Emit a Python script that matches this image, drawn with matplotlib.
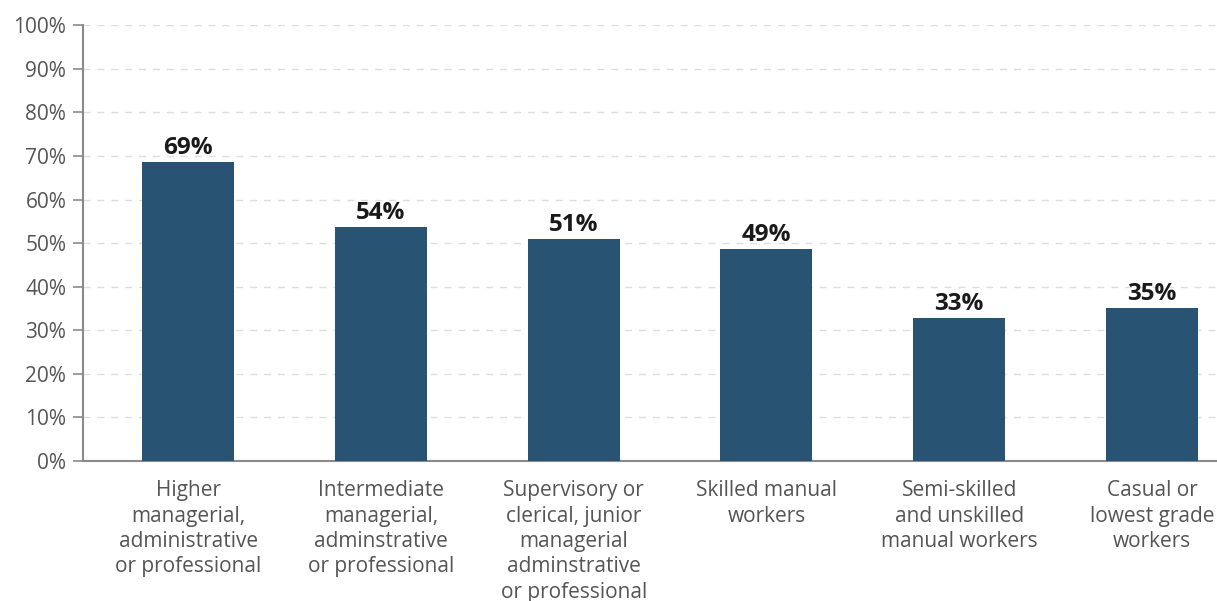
import matplotlib
matplotlib.use("Agg")
import matplotlib.pyplot as plt

# occupational grade vs share (%)
categories = [
    "Higher\nmanagerial,\nadministrative\nor professional",
    "Intermediate\nmanagerial,\nadminstrative\nor professional",
    "Supervisory or\nclerical, junior\nmanagerial\nadminstrative\nor professional",
    "Skilled manual\nworkers",
    "Semi-skilled\nand unskilled\nmanual workers",
    "Casual or\nlowest grade\nworkers",
]
values = [68.6, 53.7, 51.0, 48.6, 32.8, 35.1]
yticks = list(range(0, 101, 10))

BAR = "#285372"
GREY = "#8a8a8a"

plt.rcParams["font.family"] = ["Open Sans", "DejaVu Sans"]

fig = plt.figure(figsize=(12.17, 6.01), dpi=100)
ax = fig.add_axes([0.0682, 0.233, 0.9318, 0.725])

x = range(len(categories))
ax.bar(x, values, width=0.477, color=BAR, zorder=3)

for xi, v in zip(x, values):
    ax.text(xi, v + 0.5, f"{round(v)}%", ha="center", va="bottom",
            fontsize=17.5, fontweight="bold", color="#1a1a1a", zorder=4)

ax.set_ylim(0, 100)
ax.set_xlim(-0.545, 5.337)
ax.set_yticks(yticks)
ax.set_yticklabels([f"{t}%" for t in yticks], fontsize=15, color="#555555")
ax.set_xticks(list(x))
ax.set_xticklabels(categories, fontsize=15, color="#555555", linespacing=1.27, va="top")
ax.tick_params(axis="x", length=0, pad=14)
ax.tick_params(axis="y", length=7, width=1.2, color=GREY, pad=5)

ax.yaxis.grid(True, linestyle=(0, (5, 5)), color="#dddddd", linewidth=1, zorder=0)
for t in ax.yaxis.get_gridlines()[:1]:
    t.set_visible(False)

for s in ["top", "right"]:
    ax.spines[s].set_visible(False)
for s in ["left", "bottom"]:
    ax.spines[s].set_color(GREY)
    ax.spines[s].set_linewidth(1.5)

fig.savefig("out.png", dpi=100)
